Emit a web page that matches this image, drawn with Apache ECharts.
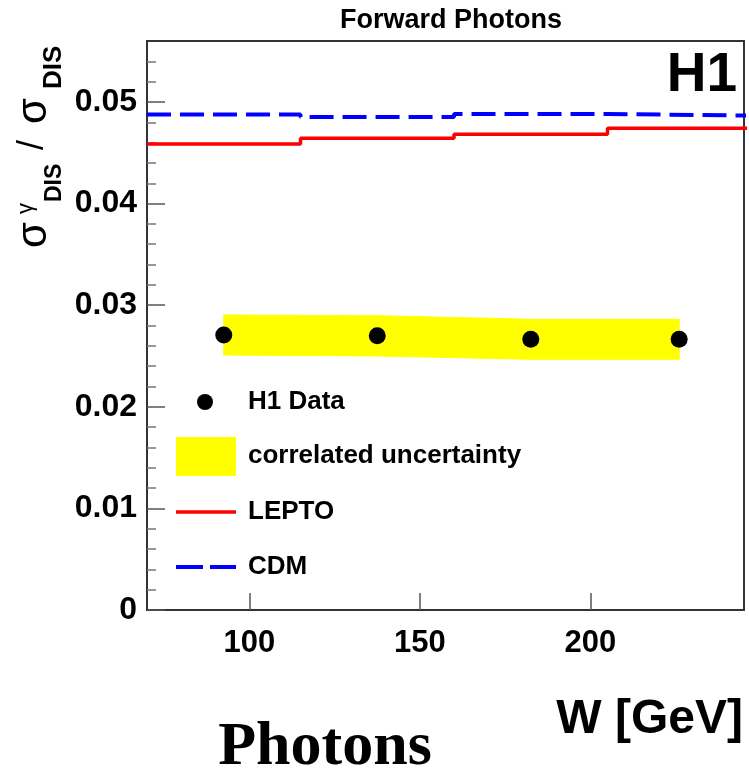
<!DOCTYPE html>
<html>
<head>
<meta charset="utf-8">
<script src="https://cdn.jsdelivr.net/npm/echarts@6/dist/echarts.min.js"></script>
<style>
  html, body { margin: 0; padding: 0; background: #fff; }
  #chart { width: 749px; height: 768px; }
</style>
</head>
<body>
<div id="chart"></div>
<script>
// Model predictions: W bin edges [GeV] and cross-section ratio per bin
const binEdges = [70, 115, 160, 205, 250];
const leptoValues = [0.04587, 0.04643, 0.04682, 0.04741];
const cdmValues = [0.04876, 0.04852, 0.04882, 0.04865];

// H1 measurement and its correlated uncertainty band
const dataW = [92.5, 137.5, 182.5, 226];
const dataValues = [0.02707, 0.02700, 0.02665, 0.02665];
const bandUpper = [0.02904, 0.02897, 0.02861, 0.02861];
const bandLower = [0.02510, 0.02500, 0.02467, 0.02467];

// Axis ticks
const xTickValues = [100, 150, 200];
const yTickValues = [0, 0.01, 0.02, 0.03, 0.04, 0.05];
const yMinorTickValues = [0.002, 0.004, 0.006, 0.008, 0.012, 0.014, 0.016, 0.018,
  0.022, 0.024, 0.026, 0.028, 0.032, 0.034, 0.036, 0.038, 0.042, 0.044, 0.046, 0.048,
  0.052, 0.054];

const SANS = '"Liberation Sans", Arial, sans-serif';
const SERIF = '"Liberation Serif", "Times New Roman", serif';

// Histogram-style step line through the bin edges
function stepData(values) {
  return binEdges.map((e, i) => [e, values[Math.min(i, values.length - 1)]]);
}

// Band pieces between neighbouring measurement points
const bandData = dataW.slice(0, -1).map((w, i) => [
  w, bandUpper[i], bandLower[i], dataW[i + 1], bandUpper[i + 1], bandLower[i + 1]
]);

const chart = echarts.init(document.getElementById('chart'), null, { renderer: 'canvas' });

const yLabelFormatter = v => (v === 0 ? '0' : v.toFixed(2));

chart.setOption({
  animation: false,
  backgroundColor: '#fff',
  grid: {
    left: 147, right: 5, top: 41, bottom: 158,
    show: true, borderColor: '#333', borderWidth: 2, backgroundColor: 'transparent'
  },
  xAxis: {
    type: 'value', min: 70, max: 245,
    axisLine: { show: false },
    splitLine: { show: false },
    axisTick: {
      show: true, inside: true, length: 17, customValues: xTickValues,
      lineStyle: { color: '#555', width: 1.5 }
    },
    axisLabel: {
      customValues: xTickValues, margin: 18,
      color: '#000', fontSize: 31, fontWeight: 'bold', fontFamily: SANS
    }
  },
  yAxis: [
    {
      type: 'value', min: 0, max: 0.056, position: 'left',
      axisLine: { show: false },
      splitLine: { show: false },
      axisTick: {
        show: true, inside: true, length: 18, customValues: yTickValues,
        lineStyle: { color: '#555', width: 1.5 }
      },
      axisLabel: {
        customValues: yTickValues, margin: 10, formatter: yLabelFormatter,
        color: '#000', fontSize: 32, fontWeight: 'bold', fontFamily: SANS
      }
    },
    {
      type: 'value', min: 0, max: 0.056, position: 'left', offset: 0,
      axisLine: { show: false },
      splitLine: { show: false },
      axisLabel: { show: false },
      axisTick: {
        show: true, inside: true, length: 9, customValues: yMinorTickValues,
        lineStyle: { color: '#777', width: 1.5 }
      }
    }
  ],
  series: [
    {
      name: 'correlated uncertainty',
      type: 'custom',
      z: 1,
      data: bandData,
      renderItem: function (params, api) {
        const p1 = api.coord([api.value(0), api.value(1)]);
        const p2 = api.coord([api.value(3), api.value(4)]);
        const p3 = api.coord([api.value(3), api.value(5)]);
        const p4 = api.coord([api.value(0), api.value(2)]);
        return {
          type: 'polygon',
          shape: { points: [p1, p2, p3, p4] },
          style: { fill: '#ffff00', stroke: '#ffff00', lineWidth: 1 }
        };
      }
    },
    {
      name: 'LEPTO',
      type: 'line',
      step: 'end',
      z: 3,
      symbol: 'none',
      data: stepData(leptoValues),
      lineStyle: { color: '#ff0000', width: 3.5 }
    },
    {
      name: 'CDM',
      type: 'line',
      step: 'end',
      z: 3,
      symbol: 'none',
      data: stepData(cdmValues),
      lineStyle: { color: '#0000ff', width: 4, type: [24, 9] }
    },
    {
      name: 'H1 Data',
      type: 'scatter',
      z: 4,
      symbol: 'circle',
      symbolSize: 17,
      itemStyle: { color: '#000', opacity: 1 },
      data: dataW.map((w, i) => [w, dataValues[i]])
    }
  ],
  graphic: [
    // Plot title and experiment tag
    { type: 'text', x: 451, y: 21, style: { text: 'Forward Photons', font: 'bold 27px ' + SANS, fill: '#000', align: 'center', verticalAlign: 'middle' } },
    { type: 'text', x: 737, y: 76, style: { text: 'H1', font: 'bold 55px ' + SANS, fill: '#000', align: 'right', verticalAlign: 'middle' } },
    // x-axis title
    { type: 'text', x: 743, y: 720, style: { text: 'W [GeV]', font: 'bold 48px ' + SANS, fill: '#000', align: 'right', verticalAlign: 'middle' } },
    // caption
    { type: 'text', x: 325, y: 748, style: { text: 'Photons', font: 'bold 62px ' + SERIF, fill: '#000', align: 'center', verticalAlign: 'middle' } },
    // y-axis title, written bottom to top
    {
      type: 'group', x: 47, y: 250, rotation: Math.PI / 2,
      children: [
        { type: 'text', x: 2, y: -13, style: { text: 'σ', font: '42px ' + SANS, fill: '#000', align: 'left', verticalAlign: 'middle' } },
        { type: 'text', x: 36, y: -21, style: { text: 'γ', font: '22px ' + SANS, fill: '#000', align: 'left', verticalAlign: 'middle' } },
        { type: 'text', x: 48, y: 8, style: { text: 'DIS', font: 'bold 23px ' + SANS, fill: '#000', align: 'left', verticalAlign: 'middle' } },
        { type: 'text', x: 100, y: -14, style: { text: '/', font: '36px ' + SANS, fill: '#000', align: 'left', verticalAlign: 'middle' } },
        { type: 'text', x: 126, y: -13, style: { text: 'σ', font: '42px ' + SANS, fill: '#000', align: 'left', verticalAlign: 'middle' } },
        { type: 'text', x: 161, y: 7, style: { text: 'DIS', font: 'bold 26px ' + SANS, fill: '#000', align: 'left', verticalAlign: 'middle' } }
      ]
    },
    // legend
    { type: 'circle', shape: { cx: 205, cy: 402, r: 8 }, style: { fill: '#000' } },
    { type: 'text', x: 248, y: 402, style: { text: 'H1 Data', font: 'bold 26px ' + SANS, fill: '#000', verticalAlign: 'middle' } },
    { type: 'rect', shape: { x: 176, y: 437, width: 60, height: 39 }, style: { fill: '#ffff00' } },
    { type: 'text', x: 248, y: 456, style: { text: 'correlated uncertainty', font: 'bold 26px ' + SANS, fill: '#000', verticalAlign: 'middle' } },
    { type: 'line', shape: { x1: 176, y1: 512, x2: 236, y2: 512 }, style: { stroke: '#ff0000', lineWidth: 3.5 } },
    { type: 'text', x: 248, y: 512, style: { text: 'LEPTO', font: 'bold 26px ' + SANS, fill: '#000', verticalAlign: 'middle' } },
    { type: 'line', shape: { x1: 176, y1: 567, x2: 236, y2: 567 }, style: { stroke: '#0000ff', lineWidth: 4, lineDash: [27, 7] } },
    { type: 'text', x: 248, y: 567, style: { text: 'CDM', font: 'bold 26px ' + SANS, fill: '#000', verticalAlign: 'middle' } }
  ]
});
</script>
</body>
</html>
